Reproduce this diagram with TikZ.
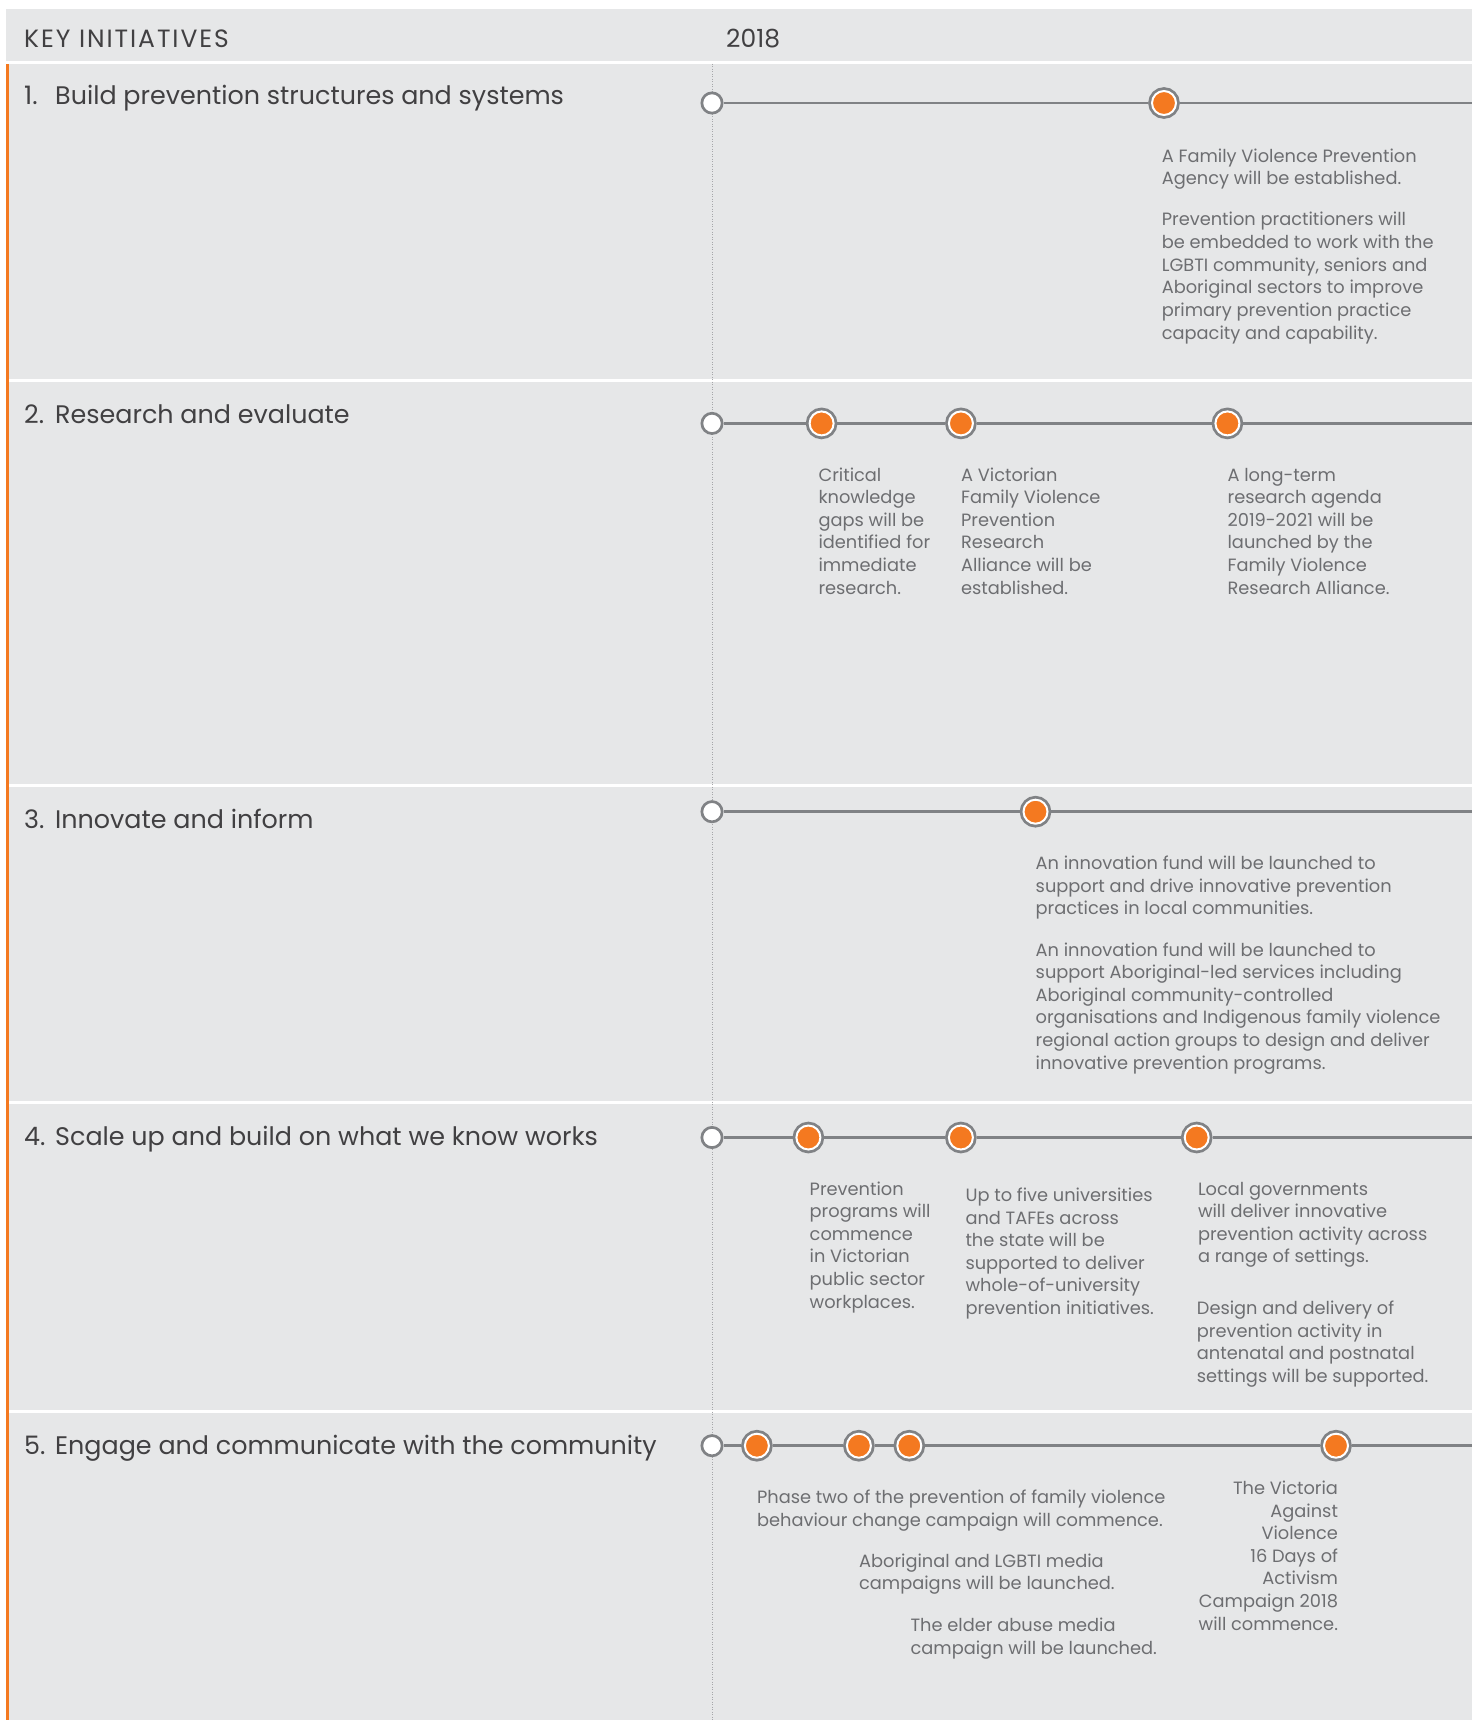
\documentclass[tikz,border=0pt]{standalone}
\usepackage{fontspec}
\setmainfont{Poppins}
\usetikzlibrary{positioning}
\definecolor{bggray}{HTML}{E6E7E8}
\definecolor{vorange}{HTML}{F47920}
\definecolor{linegray}{HTML}{808285}
\definecolor{bodygray}{HTML}{6D6E71}
\definecolor{titlegray}{HTML}{414042}
\newcommand{\leftlines}[1]{\begin{tabular}[t]{@{}l@{}}#1\end{tabular}}
\newcommand{\rightlines}[1]{\begin{tabular}[t]{@{}r@{}}#1\end{tabular}}
\tikzset{
  sep/.style={draw=white, line width=3pt},
  yearline/.style={draw=linegray!70, line width=0.8pt, dash pattern=on 1pt off 1.5pt},
  tline/.style={draw=linegray, line width=2.7pt},
  startdot/.style={circle, draw=linegray, fill=white, line width=2.7pt, minimum size=20.3pt, inner sep=0pt},
  dot/.style={circle, fill=vorange, draw=white, line width=2pt, minimum size=24pt, inner sep=0pt,
    outer sep=3.8pt, preaction={draw=linegray, line width=7.6pt}},
  head/.style={anchor=base west, inner sep=0pt, text=titlegray, font=\fontsize{25}{30}\selectfont},
  headcaps/.style={head, font=\fontsize{25}{30}\selectfont\addfontfeatures{LetterSpace=7.7}},
  sectitle/.style={anchor=base west, inner sep=0pt, text=titlegray, font=\fontsize{25.4}{31}\selectfont},
  note/.style={anchor=base west, inner sep=0pt, text=bodygray, font=\fontsize{17.8}{22.6}\selectfont},
  noter/.style={note, anchor=base east}
}
\begin{document}
\begin{tikzpicture}[x=1pt, y=-1pt]
\useasboundingbox (0,0) rectangle (1472,1720);
% panel
\fill[bggray] (5.5,9) rectangle (1472,1720);
\draw[sep] (5.5,62.5) -- (1472,62.5);
\foreach \y in {380.6,785.4,1102.4,1411.7}
  \draw[sep] (9,\y) -- (1472,\y);
\fill[vorange] (5.5,64) rectangle (9,1720);
\draw[yearline] (712,64) -- (712,1720);
% header
\node[headcaps] (hkey) at (24,47.7) {KEY INITIATIVES};
\node[head] (hyear) at (726,47.7) {2018};

% 1
\node[sectitle] (k1) at (24,105) {\makebox[31pt][l]{1.}Build prevention structures and systems};
\node[startdot] (s1) at (712,103) {};
\node[dot] (d11) at (1164,103) {};
\coordinate (e1) at (1472,103);
\draw[tline] (s1) -- (d11) -- (e1);
\node[note] (t11) at (1161.6,162.3) {\leftlines{A Family Violence Prevention\\Agency will be established.}};
\node[note] (t12) at (1161.6,226) {\leftlines{Prevention practitioners will\\be embedded to work with the\\LGBTI community, seniors and\\Aboriginal sectors to improve\\primary prevention practice\\capacity and capability.}};

% 2
\node[sectitle] (k2) at (24,423) {\makebox[31pt][l]{2.}Research and evaluate};
\node[startdot] (s2) at (712,423.4) {};
\node[dot] (d21) at (821.6,423.4) {};
\node[dot] (d22) at (960.9,423.4) {};
\node[dot] (d23) at (1227.4,423.4) {};
\coordinate (e2) at (1472,423.4);
\draw[tline] (s2) -- (d21) -- (d22) -- (d23) -- (e2);
\node[note] (t21) at (818.3,481) {\leftlines{Critical\\knowledge\\gaps will be\\identified for\\immediate\\research.}};
\node[note] (t22) at (960.9,481) {\leftlines{A Victorian\\Family Violence\\Prevention\\Research\\Alliance will be\\established.}};
\node[note] (t23) at (1227.4,481) {\leftlines{A long-term\\research agenda\\2019-2021 will be\\launched by the\\Family Violence\\Research Alliance.}};

% 3
\node[sectitle] (k3) at (24,828) {\makebox[31pt][l]{3.}Innovate and inform};
\node[startdot] (s3) at (712,811.7) {};
\node[dot] (d31) at (1035.5,811.7) {};
\coordinate (e3) at (1472,811.7);
\draw[tline] (s3) -- (d31) -- (e3);
\node[note] (t31) at (1035.5,869.5) {\leftlines{An innovation fund will be launched to\\support and drive innovative prevention\\practices in local communities.}};
\node[note] (t32) at (1035.5,956) {\leftlines{An innovation fund will be launched to\\support Aboriginal-led services including\\Aboriginal community-controlled\\organisations and Indigenous family violence\\regional action groups to design and deliver\\innovative prevention programs.}};

% 4
\node[sectitle] (k4) at (24,1145) {\makebox[31pt][l]{4.}Scale up and build on what we know works};
\node[startdot] (s4) at (712,1137.5) {};
\node[dot] (d41) at (808.4,1137.5) {};
\node[dot] (d42) at (960.9,1137.5) {};
\node[dot] (d43) at (1196.7,1137.5) {};
\coordinate (e4) at (1472,1137.5);
\draw[tline] (s4) -- (d41) -- (d42) -- (d43) -- (e4);
\node[note] (t41) at (809.5,1195) {\leftlines{Prevention\\programs will\\commence\\in Victorian\\public sector\\workplaces.}};
\node[note] (t42) at (965.3,1201.5) {\leftlines{Up to five universities\\and TAFEs across\\the state will be\\supported to deliver\\whole-of-university\\prevention initiatives.}};
\node[note] (t43) at (1197.8,1195) {\leftlines{Local governments\\will deliver innovative\\prevention activity across\\a range of settings.}};
\node[note] (t44) at (1196.7,1314.5) {\leftlines{Design and delivery of\\prevention activity in\\antenatal and postnatal\\settings will be supported.}};

% 5
\node[sectitle] (k5) at (24,1454) {\makebox[31pt][l]{5.}Engage and communicate with the community};
\node[startdot] (s5) at (712,1445.7) {};
\node[dot] (d51) at (756.9,1445.7) {};
\node[dot] (d52) at (858.9,1445.7) {};
\node[dot] (d53) at (909.3,1445.7) {};
\node[dot] (d54) at (1336,1445.7) {};
\coordinate (e5) at (1472,1445.7);
\draw[tline] (s5) -- (d51) -- (d52) -- (d53) -- (d54) -- (e5);
\node[note] (t51) at (756.9,1503.5) {\leftlines{Phase two of the prevention of family violence\\behaviour change campaign will commence.}};
\node[note] (t52) at (858.9,1567) {\leftlines{Aboriginal and LGBTI media\\campaigns will be launched.}};
\node[note] (t53) at (910.4,1631.5) {\leftlines{The elder abuse media\\campaign will be launched.}};
\node[noter] (t54) at (1338.2,1494.5) {\rightlines{The Victoria\\Against\\Violence\\16 Days of\\Activism\\Campaign 2018\\will commence.}};
\end{tikzpicture}
\end{document}
